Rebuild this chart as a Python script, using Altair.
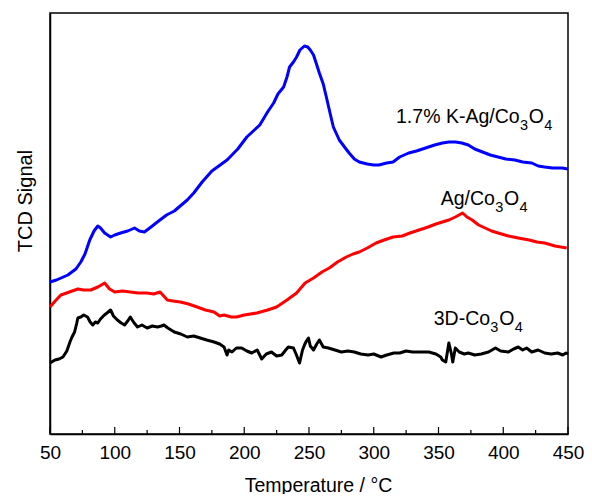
import altair as alt
import pandas as pd

# ---- data (temperature in °C, signal in arbitrary units) ----
blue_T = [50, 55, 63.8, 70, 73.8, 77, 80.7, 84, 86.9, 89, 92.2, 96.8, 100, 104.5, 110, 115.3, 119, 122.9,
          128, 132.9, 140, 146, 156, 161, 167.5, 175, 186.7, 195, 202, 207, 212, 218, 222.7, 226, 230.4,
          233, 235, 238, 240.4, 243, 246.5, 249, 251, 253.5, 256, 258, 261, 263.4, 265.7, 268.8, 273.4,
          278, 281, 285, 288.8, 295, 300, 304, 310, 314.9, 320, 327, 333, 340, 347, 353, 358, 363, 368,
          373, 378, 384, 390, 396, 402, 409, 415, 422, 427, 432, 438, 445.4, 450]
blue_v = [152, 154, 159, 165, 172, 180, 194, 203, 208, 206, 201, 197, 199, 201, 203, 206, 203, 202,
          207, 212, 219, 223, 234, 241, 252, 263, 274, 285, 297, 303, 309, 322, 331, 340, 347,
          357, 367, 372, 377, 384, 388, 387, 384, 379, 369, 361, 350, 337, 324, 307, 294,
          286, 281, 275, 272, 270, 269, 269, 271, 272, 277, 281, 283, 286, 289, 291, 292, 292, 291,
          289, 285, 282, 279, 277, 275, 274, 272, 271, 268, 267, 266, 266, 265]

red_T = [50, 54, 58.4, 65, 71.5, 76, 81.5, 87, 92.2, 96, 99.9, 106, 112, 118, 125, 130, 135, 140.6, 145,
         150.6, 157, 163.6, 170, 176.7, 181, 184.4, 190, 194, 200, 209.7, 218, 225, 233, 240.4, 247,
         253.5, 260, 265.7, 272, 278.8, 284, 288.8, 295, 301.8, 308, 314.9, 322, 328, 335, 342, 348,
         353, 358, 363, 368.6, 372, 376, 381, 386, 391, 396, 404, 411.6, 420, 426, 432, 440, 449]
red_v = [127, 133, 139, 142, 145, 144, 144, 147, 151, 145, 142, 143, 142, 141, 141, 140, 142, 134, 133,
         132, 130, 127, 124, 122, 118, 119, 117, 117, 119, 121, 124, 127, 134, 141, 151,
         156, 162, 166, 172, 177, 180, 182, 186, 191, 194, 197, 198, 201, 204, 207, 210,
         212, 214, 217, 221, 217, 214, 209, 206, 203, 201, 198, 196, 194, 192, 191, 188, 186]

black_T = [50, 53.8, 57, 60, 63, 65.4, 67, 69, 70.5, 71.5, 73.8, 76, 79, 81, 83, 85, 86.9, 89, 92, 94,
           96.8, 99, 102, 105, 107.6, 110, 112, 115, 117.6, 121, 125, 129, 133, 136, 138, 141, 146,
           151, 156, 161, 166, 171, 176.7, 181, 184.4, 186.7, 188, 190.5, 194, 198, 202, 205.8, 210,
           213.5, 217, 221, 225, 229, 232, 234, 238, 240, 242.7, 245, 246.5, 248, 249.6, 251, 253.5,
           256, 258, 261, 265, 270, 275, 280, 285, 290, 295.7, 300, 305.7, 310, 315.6, 320, 325, 330,
           336, 342.5, 348, 351.7, 353, 355.6, 358, 360, 361, 363, 366, 370, 373, 378, 383, 388.6,
           394, 398, 404, 408, 411.6, 415, 418, 422, 427, 432, 437, 442, 446, 448.5, 450]
black_v = [71, 74, 75, 77, 83, 92, 97, 102, 110, 116, 117, 119, 117, 112, 109, 112, 111, 115, 119, 121,
           124, 118, 114, 111, 109, 113, 117, 111, 107, 109, 106, 108, 107, 108, 109, 106, 102,
           100, 97, 98, 96, 94, 92, 90, 87, 79, 84, 82, 86, 86, 83, 81, 84,
           75, 80, 82, 78, 79, 84, 87, 86, 80, 71, 84, 89, 93, 96, 88, 84,
           90, 94, 87, 86, 84, 82, 83, 82, 80, 79, 80, 77, 79, 81, 81, 83, 82,
           82, 82, 80, 77, 74, 72, 91, 80, 72, 86, 82, 80, 81, 79, 80, 82,
           86, 83, 82, 85, 87, 84, 86, 82, 84, 81, 80, 81, 79, 81, 80]

series_names = ["1.7% K-Ag/Co3O4", "Ag/Co3O4", "3D-Co3O4"]
series_colors = ["#0000FF", "#FF0000", "#000000"]

# curve labels: main text, subscript, main text, subscript (chemical formula Co3O4)
label_parts = [["1.7% K-Ag/Co", "3", "O", "4"],
               ["Ag/Co", "3", "O", "4"],
               ["3D-Co", "3", "O", "4"]]
label_T = [317.2, 351.7, 346.3]
label_v = [311, 229.5, 109]

major_ticks = [50, 100, 150, 200, 250, 300, 350, 400, 450]
minor_ticks = [75, 125, 175, 225, 275, 325, 375, 425]

# ---- styling ----
FONT = "Liberation Sans"
MAIN_SIZE = 19.5
SUB_SIZE = 14.5
SUB_SHIFT = 7
W, H = 518, 421

# Arial / Liberation Sans advance widths (per 1000 em) for laying out subscripts
ADV = {"1": 556, "3": 556, "4": 556, "7": 556, ".": 278, "%": 889, " ": 278, "K": 667, "-": 333,
       "A": 667, "g": 556, "/": 278, "C": 722, "o": 556, "O": 778, "D": 722}


def text_width(s, size):
    return sum(ADV.get(c, 556) for c in s) * size / 1000.0


# ---- tables ----
rows = []
for name, T, v in zip(series_names, [blue_T, red_T, black_T], [blue_v, red_v, black_v]):
    for t, s in zip(T, v):
        rows.append({"series": name, "T": t, "v": s})
df = pd.DataFrame(rows)
major_df = pd.DataFrame({"T": major_ticks})
minor_df = pd.DataFrame({"T": minor_ticks})

xscale = alt.Scale(domain=[50, 450], nice=False, zero=False)
yscale = alt.Scale(domain=[0, 421], nice=False, zero=False)

lines = alt.Chart(df).mark_line(strokeWidth=3, strokeJoin="round").encode(
    x=alt.X("T:Q", scale=xscale,
            axis=alt.Axis(title="Temperature / °C", values=major_ticks, ticks=False, grid=False,
                          labelFontSize=19, labelFont=FONT, labelColor="black", labelPadding=9,
                          labelFlush=False, labelOverlap=False,
                          titleFontSize=19.5, titleFont=FONT, titleFontWeight="normal", titleColor="black",
                          titleX=268, titleY=57, titleAlign="center", titleBaseline="alphabetic",
                          domainColor="black", domainWidth=1.5, format="d")),
    y=alt.Y("v:Q", scale=yscale,
            axis=alt.Axis(title="TCD Signal", labels=False, ticks=False, grid=False,
                          titleFontSize=20, titleFont=FONT, titleFontWeight="normal", titleColor="black",
                          titleX=-19, titleY=187.5, titleAlign="center", titleBaseline="alphabetic",
                          domainColor="black", domainWidth=1.5)),
    color=alt.Color("series:N", scale=alt.Scale(domain=series_names, range=series_colors), legend=None),
    detail="series:N",
    order="T:Q",
)

major = alt.Chart(major_df).mark_rule(color="black", strokeWidth=1.2).encode(
    x=alt.X("T:Q", scale=xscale), y=alt.value(H), y2=alt.value(H - 7))
minor = alt.Chart(minor_df).mark_rule(color="black", strokeWidth=1.2).encode(
    x=alt.X("T:Q", scale=xscale), y=alt.value(H), y2=alt.value(H - 4))

layers = [lines, major, minor]
for parts, t, v in zip(label_parts, label_T, label_v):
    offset = 0.0
    for i, part in enumerate(parts):
        is_sub = i % 2 == 1
        size = SUB_SIZE if is_sub else MAIN_SIZE
        part_df = pd.DataFrame({"text": [part], "T": [t], "v": [v]})
        layers.append(
            alt.Chart(part_df).mark_text(align="left", baseline="alphabetic", fontSize=size, font=FONT,
                                         color="black", dx=offset, dy=SUB_SHIFT if is_sub else 0).encode(
                x=alt.X("T:Q", scale=xscale), y=alt.Y("v:Q", scale=yscale), text="text:N"))
        offset += text_width(part, size) + (0.8 if is_sub else 0.3)

chart = alt.layer(*layers).properties(
    width=W, height=H,
    autosize=alt.AutoSizeParams(type="none"),
    padding={"left": 42, "top": 5, "right": 16, "bottom": 60},
).configure_view(stroke="black", strokeWidth=1.5)

chart.save("out.html", embed_options={"renderer": "svg", "actions": False})
